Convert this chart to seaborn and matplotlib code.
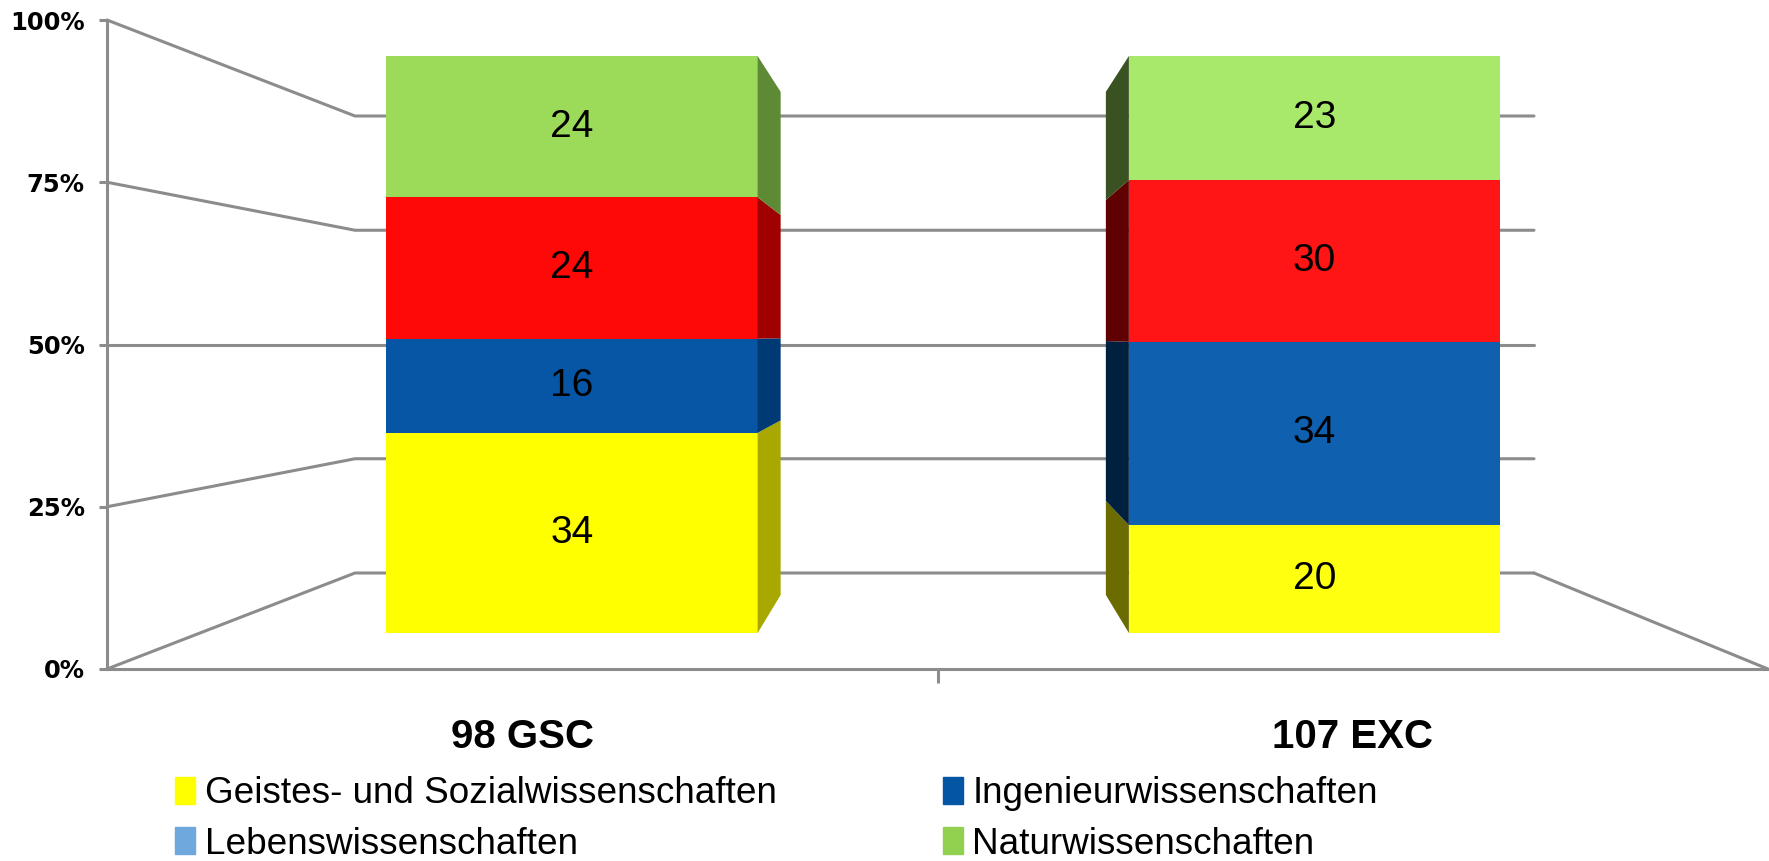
import numpy as np
import pandas as pd
import seaborn as sns
import matplotlib.pyplot as plt
from matplotlib.patches import Patch
from matplotlib.ticker import PercentFormatter

categories = ["98 GSC", "107 EXC"]
fields = ["Geistes- und Sozialwissenschaften", "Ingenieurwissenschaften",
          "Lebenswissenschaften", "Naturwissenschaften"]
gsc_counts = [34, 16, 24, 24]
exc_counts = [20, 34, 30, 23]

# front colour of each segment for (GSC, EXC), and darker side faces
front_colors = [["#FFFF00", "#FFFF10"], ["#0755A5", "#1060B0"],
                ["#FF0808", "#FF1515"], ["#9CDB5A", "#A8E86A"]]
side_colors = [["#A8A800", "#6B6B00"], ["#003A75", "#00203F"],
               ["#A00000", "#600000"], ["#5E8A35", "#3A5222"]]
legend_colors = ["#FFFF00", "#0455A4", "#6FA8DC", "#92D050"]

sns.set_style("white")
plt.rcParams["font.family"] = ["Liberation Sans", "DejaVu Sans"]
plt.rcParams["text.color"] = "black"
plt.rcParams["xtick.labelcolor"] = "black"
plt.rcParams["ytick.labelcolor"] = "black"

W, H = 1769, 861
fig = plt.figure(figsize=(W / 100, H / 100), dpi=100)


def fig_rect(x0, y0, x1, y1):
    # pixel box (origin top left) -> figure fraction rect
    return [x0 / W, 1 - y1 / H, (x1 - x0) / W, (y1 - y0) / H]


# perspective walls, pixel coordinates
bg = fig.add_axes([0, 0, 1, 1], zorder=0)
bg.set_xlim(0, W)
bg.set_ylim(H, 0)
bg.axis("off")
grid = "#8c8c8c"
FX, BX0, BX1, RX = 107, 355, 1534, 1768


def front_y(v):
    return 669 - 649 * v


def back_y(v):
    return 573 - 457 * v


for v in [0, .25, .5, .75, 1]:
    bg.plot([FX, BX0, BX1], [front_y(v), back_y(v), back_y(v)], color=grid, lw=2.2)
bg.plot([BX1, RX], [back_y(0), front_y(0)], color=grid, lw=2.2)

# front axis with ticks and category labels
fr = fig.add_axes(fig_rect(FX, 20, RX, 669), zorder=1)
fr.patch.set_alpha(0)
fr.set_xlim(0, 2)
fr.set_ylim(0, 1)
for s in ["top", "right"]:
    fr.spines[s].set_visible(False)
for s in ["left", "bottom"]:
    fr.spines[s].set_color(grid)
    fr.spines[s].set_linewidth(2.2)
fr.set_yticks([0, .25, .5, .75, 1])
fr.yaxis.set_major_formatter(PercentFormatter(1.0, decimals=0))
fr.tick_params(axis="y", left=True, length=6, width=2.2, color=grid, pad=10, labelsize=17.5)
for t in fr.get_yticklabels():
    t.set_fontweight("bold")
    t.set_family("DejaVu Sans")
fr.set_xticks([1])
fr.set_xticks([0.5, 1.5], categories, minor=True)
fr.tick_params(axis="x", which="major", bottom=True, length=10, width=2.2, color=grid, labelbottom=False)
fr.tick_params(axis="x", which="minor", bottom=True, length=0, pad=35, labelsize=29)
for t in fr.get_xticklabels(minor=True):
    t.set_fontweight("bold")

# stacked bars
df = pd.DataFrame({"category": np.repeat(categories, len(fields)),
                   "field": fields * 2,
                   "count": gsc_counts + exc_counts})
df["pct"] = df["count"] / df.groupby("category")["count"].transform("sum") * 100
df["top"] = df.groupby("category")["pct"].cumsum()
df["bottom"] = df["top"] - df["pct"]

ax = fig.add_axes(fig_rect(200.75, 56, 1685.75, 633), zorder=2)
ax.patch.set_alpha(0)
for k in range(len(fields) - 1, -1, -1):
    sub = df[df["field"] == fields[k]]
    sns.barplot(data=sub, x="category", y="top", hue="category", order=categories,
                hue_order=categories, palette=front_colors[k], width=0.5, dodge=False,
                saturation=1, linewidth=0, legend=False, ax=ax)
ax.set_xlim(-0.5, 1.5)
ax.set_ylim(0, 100)
ax.axis("off")

# side faces of the bars
depth = 0.031


def back_v(v):
    return 6.59 + 0.872 * v


for _, r in df.iterrows():
    i = categories.index(r["category"])
    k = fields.index(r["field"])
    sign = 1 if i == 0 else -1
    edge = i + sign * 0.25
    b, t = r["bottom"], r["top"]
    ax.fill([edge, edge, edge + sign * depth, edge + sign * depth],
            [b, t, back_v(t), back_v(b)], color=side_colors[k][i], lw=0, clip_on=False)
    ax.text(i, b + r["pct"] / 2, str(r["count"]), ha="center", va="center", fontsize=28)

# legend (two columns, row order as in the original)
order = [0, 2, 1, 3]
handles = [Patch(color=legend_colors[k], label=fields[k]) for k in order]
fig.legend(handles=handles, ncol=2, loc="upper left", bbox_to_anchor=(175 / W, 1 - 776 / H),
           frameon=False, fontsize=26.6, handlelength=0.55, handleheight=0.75,
           handletextpad=0.25, columnspacing=4.5, labelspacing=0.42,
           borderpad=0, borderaxespad=0)

fig.savefig("out.png", dpi=100)
